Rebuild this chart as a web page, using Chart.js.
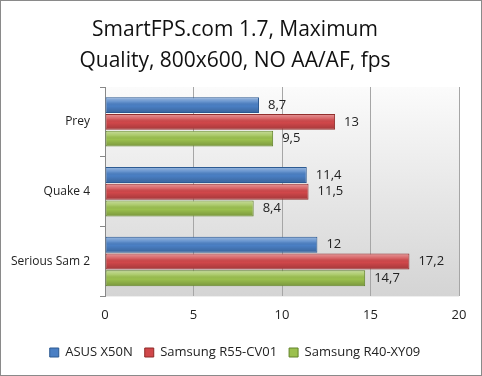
<!DOCTYPE html>
<html>
<head>
<meta charset="utf-8">
<script src="https://cdn.jsdelivr.net/npm/chart.js@4/dist/chart.umd.min.js"></script>
<style>
  html, body { margin: 0; padding: 0; background: #fff; }
  #wrap { width: 482px; height: 376px; box-sizing: border-box; border: 1px solid #8a8a8a; position: relative; }
  canvas { display: block; }
</style>
</head>
<body>
<div id="wrap"><canvas id="fps_chart" width="480" height="374"></canvas></div>
<script>
const games = ["Prey", "Quake 4", "Serious Sam 2"];
const asus_x50n = [8.7, 11.4, 12];
const samsung_r55 = [13, 11.5, 17.2];
const samsung_r40 = [9.5, 8.4, 14.7];
const series_names = ["ASUS X50N", "Samsung R55-CV01", "Samsung R40-XY09"];
const x_ticks = [0, 5, 10, 15, 20];

const fillColors = ["#4a7fc4", "#d0474a", "#9bc04e"];
const edgeColors = ["#2c5a92", "#8e2a28", "#62832a"];
const font_family = "'Open Sans', 'Noto Sans', sans-serif";

// gray gradient behind the plot area
const plotBackground = {
  id: "plotBackground",
  beforeDraw(chart) {
    const { ctx, chartArea: a } = chart;
    const g = ctx.createLinearGradient(0, a.top, 0, a.bottom);
    g.addColorStop(0, "#fbfbfb");
    g.addColorStop(1, "#d4d4d4");
    ctx.save();
    ctx.fillStyle = g;
    ctx.fillRect(a.left, a.top, a.right - a.left, a.bottom - a.top);
    ctx.restore();
  },
};

// glossy shading on top of each bar + value labels with comma decimals
const barDecor = {
  id: "barDecor",
  afterDatasetsDraw(chart) {
    const ctx = chart.ctx;
    ctx.save();
    chart.data.datasets.forEach((ds, i) => {
      chart.getDatasetMeta(i).data.forEach((bar) => {
        const h = bar.height;
        const top = bar.y - h / 2;
        const g = ctx.createLinearGradient(0, top, 0, top + h);
        g.addColorStop(0, "rgba(255,255,255,0.45)");
        g.addColorStop(0.3, "rgba(255,255,255,0.15)");
        g.addColorStop(0.55, "rgba(0,0,0,0)");
        g.addColorStop(1, "rgba(0,0,0,0.22)");
        ctx.fillStyle = g;
        ctx.fillRect(bar.base + 1, top + 1, bar.x - bar.base - 2, h - 2);
      });
    });
    ctx.font = "13px " + font_family;
    ctx.fillStyle = "#222";
    ctx.textBaseline = "middle";
    chart.data.datasets.forEach((ds, i) => {
      chart.getDatasetMeta(i).data.forEach((bar, j) => {
        const txt = String(ds.data[j]).replace(".", ",");
        ctx.fillText(txt, bar.x + 9, bar.y);
      });
    });
    ctx.restore();
  },
};

const datasets = [asus_x50n, samsung_r55, samsung_r40].map((d, i) => ({
  label: series_names[i],
  data: d,
  backgroundColor: fillColors[i],
  borderColor: edgeColors[i],
  borderWidth: 1,
  borderSkipped: false,
  categoryPercentage: 0.72,
  barPercentage: 0.95,
}));

new Chart(document.getElementById("fps_chart"), {
  type: "bar",
  data: { labels: games, datasets },
  plugins: [plotBackground, barDecor],
  options: {
    responsive: false,
    animation: false,
    indexAxis: "y",
    layout: { padding: { left: 10, right: 22, top: 0, bottom: 6 } },
    plugins: {
      title: {
        display: true,
        text: ["SmartFPS.com 1.7, Maximum", "Quality, 800x600, NO AA/AF, fps"],
        color: "#111",
        font: { family: font_family, size: 21, weight: "normal", lineHeight: 1.5 },
        padding: { top: 13, bottom: 10 },
      },
      legend: {
        position: "bottom",
        labels: {
          color: "#222",
          font: { family: font_family, size: 13 },
          boxWidth: 9,
          boxHeight: 9,
          padding: 12,
        },
      },
      tooltip: { enabled: false },
    },
    scales: {
      x: {
        min: 0,
        max: 20,
        afterBuildTicks: (s) => { s.ticks = x_ticks.map((v) => ({ value: v })); },
        ticks: { color: "#222", font: { family: font_family, size: 13 }, padding: 11 },
        grid: { color: "#a6a6a6", drawTicks: false },
        border: { display: false },
      },
      y: {
        ticks: { color: "#222", font: { family: font_family, size: 12 }, padding: 10 },
        grid: { offset: true, drawOnChartArea: false, color: "#888", tickLength: 5 },
        border: { color: "#888" },
        afterFit: (s) => { s.width = 94; },
      },
    },
  },
});
</script>
</body>
</html>
